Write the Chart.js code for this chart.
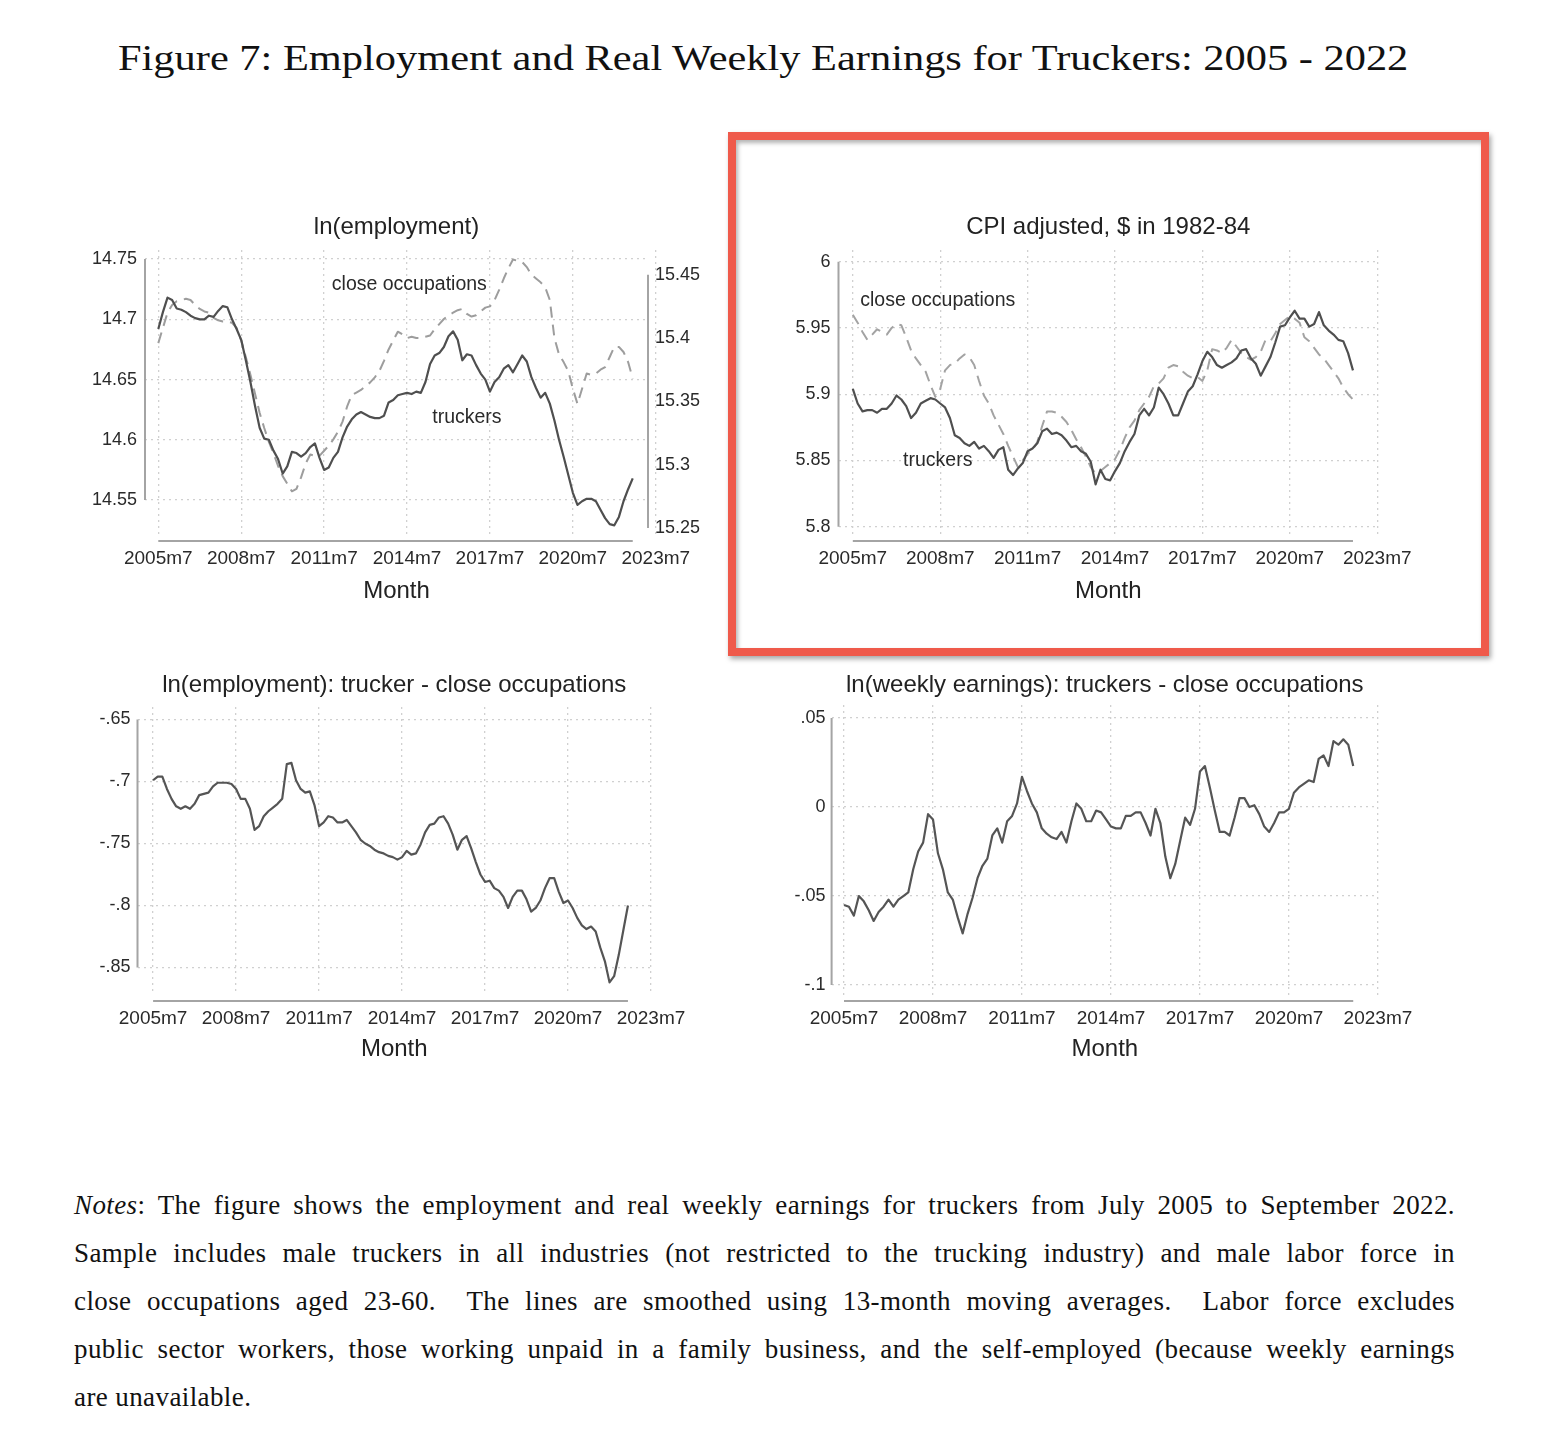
<!DOCTYPE html>
<html>
<head>
<meta charset="utf-8">
<title>Figure 7</title>
<script src="https://cdn.jsdelivr.net/npm/chart.js@4.4.1/dist/chart.umd.min.js"></script>
<style>
  html, body { margin: 0; padding: 0; background: #fff; }
  #page { position: relative; width: 1550px; height: 1432px; overflow: hidden; background: #fff; }
  #figTitle { position: absolute; left: 118px; top: 36px; font-family: 'Liberation Serif', serif; font-size: 36px; line-height: 44px; color: #111; white-space: nowrap; transform-origin: 0 0; }
  canvas { position: absolute; }
  #highlight { position: absolute; left: 728px; top: 132px; width: 761px; height: 524px; box-sizing: border-box; border: 8px solid #ef5a4b; box-shadow: 2px 3px 5px rgba(0,0,0,.35), inset 2px 3px 4px rgba(0,0,0,.3); }
  #notes { position: absolute; left: 74px; top: 1181px; width: 1381px; font-family: 'Liberation Serif', serif; font-size: 27px; letter-spacing: 0.4px; color: #111; }
  #notes div { height: 48px; line-height: 48px; text-align: justify; text-align-last: justify; }
  #notes div.last { text-align-last: left; }
</style>
</head>
<body>
<div id="page">
  <div id="figTitle">Figure 7: Employment and Real Weekly Earnings for Truckers: 2005 - 2022</div>
  <canvas id="c1" width="670" height="420" style="left:60px;top:200px"></canvas>
  <canvas id="c2" width="728" height="420" style="left:740px;top:200px"></canvas>
  <canvas id="c3" width="659" height="420" style="left:60px;top:660px"></canvas>
  <canvas id="c4" width="720" height="420" style="left:740px;top:660px"></canvas>
  <div id="highlight"></div>
  <div id="notes">
    <div><i>Notes</i>: The figure shows the employment and real weekly earnings for truckers from July 2005 to September 2022.</div>
    <div>Sample includes male truckers in all industries (not restricted to the trucking industry) and male labor force in</div>
    <div>close occupations aged 23-60.&nbsp; The lines are smoothed using 13-month moving averages.&nbsp; Labor force excludes</div>
    <div>public sector workers, those working unpaid in a family business, and the self-employed (because weekly earnings</div>
    <div class="last">are unavailable.</div>
  </div>
</div>
<script>
Chart.defaults.font.family = "'Liberation Sans', Arimo, Arial, sans-serif";
Chart.defaults.color = '#2a2a2a';

// x axis: months counted from 2005m7
const monthTicks = [0, 36, 72, 108, 144, 180, 216];
const monthLabels = ['2005m7', '2008m7', '2011m7', '2014m7', '2017m7', '2020m7', '2023m7'];

// every second month, 2005m7 .. 2022m9 (13-month moving averages)
const empTruckers = [
  14.692, 14.706, 14.718, 14.716, 14.709, 14.708, 14.706, 14.703, 14.701, 14.700,
  14.700, 14.703, 14.702, 14.707, 14.711, 14.710, 14.700, 14.692, 14.683, 14.666,
  14.648, 14.628, 14.610, 14.601, 14.600, 14.591, 14.584, 14.572, 14.578, 14.590,
  14.589, 14.586, 14.589, 14.594, 14.597, 14.585, 14.575, 14.577, 14.585, 14.590,
  14.602, 14.611, 14.617, 14.621, 14.623, 14.621, 14.619, 14.618, 14.618, 14.620,
  14.631, 14.633, 14.637, 14.638, 14.639, 14.638, 14.640, 14.639, 14.648, 14.663,
  14.670, 14.672, 14.677, 14.686, 14.690, 14.683, 14.666, 14.671, 14.670, 14.662,
  14.655, 14.650, 14.640, 14.648, 14.652, 14.659, 14.662, 14.656, 14.663, 14.670,
  14.665, 14.652, 14.643, 14.635, 14.639, 14.630, 14.616, 14.600, 14.586, 14.571,
  14.556, 14.546, 14.549, 14.551, 14.551, 14.549, 14.542, 14.535, 14.530, 14.529,
  14.536, 14.549, 14.559, 14.568
];
const empClose = [
  15.396, 15.408, 15.420, 15.426, 15.429, 15.430, 15.431, 15.430, 15.426, 15.423,
  15.421, 15.420, 15.416, 15.414, 15.413, 15.413, 15.412, 15.408, 15.398, 15.385,
  15.371, 15.356, 15.341, 15.329, 15.318, 15.309, 15.299, 15.291, 15.285, 15.279,
  15.281, 15.290, 15.301, 15.308, 15.307, 15.307, 15.311, 15.315, 15.320, 15.326,
  15.334, 15.346, 15.355, 15.357, 15.359, 15.362, 15.365, 15.369, 15.374, 15.382,
  15.391, 15.398, 15.405, 15.403, 15.400, 15.401, 15.400, 15.400, 15.401, 15.402,
  15.407, 15.411, 15.415, 15.418, 15.420, 15.422, 15.423, 15.419, 15.417, 15.418,
  15.421, 15.424, 15.425, 15.430, 15.438, 15.447, 15.455, 15.462, 15.461, 15.460,
  15.456, 15.450, 15.447, 15.444, 15.440, 15.430, 15.400, 15.387, 15.381, 15.374,
  15.360, 15.348, 15.360, 15.372, 15.371, 15.372, 15.375, 15.377, 15.385, 15.393,
  15.393, 15.389, 15.381, 15.368
];
const earnTruckers = [
  5.904, 5.893, 5.887, 5.888, 5.888, 5.886, 5.889, 5.889, 5.893, 5.899,
  5.896, 5.891, 5.882, 5.886, 5.893, 5.895, 5.897, 5.896, 5.893, 5.890,
  5.882, 5.869, 5.867, 5.863, 5.861, 5.864, 5.859, 5.861, 5.857, 5.852,
  5.858, 5.860, 5.843, 5.839, 5.844, 5.848, 5.857, 5.859, 5.863, 5.872,
  5.874, 5.870, 5.871, 5.869, 5.865, 5.860, 5.861, 5.857, 5.855, 5.849,
  5.832, 5.843, 5.836, 5.835, 5.842, 5.848, 5.857, 5.864, 5.870, 5.884,
  5.889, 5.884, 5.890, 5.905, 5.900, 5.893, 5.884, 5.884, 5.893, 5.902,
  5.906, 5.915, 5.925, 5.932, 5.928, 5.922, 5.920, 5.922, 5.924, 5.927,
  5.933, 5.934, 5.927, 5.923, 5.914, 5.921, 5.928, 5.939, 5.951, 5.952,
  5.958, 5.963, 5.957, 5.957, 5.951, 5.953, 5.962, 5.952, 5.948, 5.945,
  5.941, 5.940, 5.931, 5.918
];
const earnClose = [
  5.960, 5.954, 5.947, 5.941, 5.945, 5.949, 5.947, 5.945, 5.950, 5.953,
  5.952, 5.943, 5.933, 5.927, 5.922, 5.917, 5.907, 5.898, 5.904, 5.918,
  5.922, 5.923, 5.927, 5.930, 5.928, 5.922, 5.910, 5.899, 5.893, 5.884,
  5.877, 5.870, 5.861, 5.853, 5.845, 5.850, 5.855, 5.858, 5.864, 5.876,
  5.887, 5.887, 5.886, 5.883, 5.879, 5.873, 5.866, 5.860, 5.853, 5.845,
  5.840, 5.842, 5.845, 5.848, 5.851, 5.858, 5.867, 5.875, 5.880, 5.888,
  5.893, 5.898, 5.906, 5.908, 5.912, 5.920, 5.922, 5.921, 5.917, 5.914,
  5.912, 5.913, 5.910, 5.918, 5.934, 5.933, 5.931, 5.935, 5.941, 5.936,
  5.931, 5.928, 5.926, 5.928, 5.932, 5.941, 5.940, 5.946, 5.953, 5.956,
  5.959, 5.957, 5.954, 5.943, 5.940, 5.935, 5.930, 5.927, 5.922, 5.917,
  5.912, 5.905, 5.900, 5.896
];
const empGap = [
  -0.699, -0.696, -0.696, -0.706, -0.714, -0.720, -0.722, -0.720, -0.722, -0.718,
  -0.711, -0.710, -0.709, -0.704, -0.701, -0.701, -0.701, -0.702, -0.706, -0.714,
  -0.714, -0.722, -0.739, -0.736, -0.728, -0.724, -0.721, -0.718, -0.714, -0.686,
  -0.685, -0.699, -0.706, -0.709, -0.708, -0.719, -0.736, -0.733, -0.728, -0.729,
  -0.733, -0.733, -0.731, -0.736, -0.741, -0.747, -0.750, -0.752, -0.755, -0.757,
  -0.758, -0.760, -0.761, -0.763, -0.761, -0.756, -0.759, -0.758, -0.751, -0.741,
  -0.735, -0.734, -0.729, -0.728, -0.734, -0.743, -0.755, -0.747, -0.744, -0.754,
  -0.765, -0.775, -0.781, -0.780, -0.786, -0.788, -0.793, -0.802, -0.793, -0.788,
  -0.788, -0.795, -0.805, -0.802, -0.796, -0.786, -0.778, -0.778, -0.789, -0.798,
  -0.796, -0.802, -0.810, -0.816, -0.819, -0.817, -0.821, -0.834, -0.845, -0.862,
  -0.857, -0.840, -0.820, -0.800
];
const earnGap = [
  -0.055, -0.056, -0.061, -0.050, -0.053, -0.058, -0.064, -0.059, -0.056, -0.052,
  -0.056, -0.052, -0.050, -0.048, -0.035, -0.025, -0.020, -0.004, -0.007, -0.026,
  -0.035, -0.048, -0.052, -0.062, -0.071, -0.060, -0.051, -0.040, -0.033, -0.029,
  -0.016, -0.012, -0.020, -0.008, -0.005, 0.002, 0.017, 0.009, 0.002, -0.003,
  -0.012, -0.015, -0.017, -0.018, -0.014, -0.020, -0.008, 0.002, -0.001, -0.008,
  -0.008, -0.002, -0.003, -0.007, -0.011, -0.012, -0.012, -0.005, -0.005, -0.003,
  -0.003, -0.009, -0.016, -0.001, -0.009, -0.028, -0.040, -0.032, -0.019, -0.006,
  -0.010, -0.001, 0.020, 0.023, 0.011, -0.002, -0.014, -0.014, -0.016, -0.006,
  0.005, 0.005, 0.000, 0.001, -0.004, -0.011, -0.014, -0.009, -0.003, -0.003,
  -0.001, 0.008, 0.011, 0.013, 0.015, 0.014, 0.027, 0.029, 0.023, 0.037,
  0.035, 0.038, 0.035, 0.023
];
const months = empTruckers.map((v, i) => i * 2);

// y axis ticks
const empTicks = [14.55, 14.6, 14.65, 14.7, 14.75];
const empCloseTicks = [15.25, 15.3, 15.35, 15.4, 15.45];
const earnTicks = [5.8, 5.85, 5.9, 5.95, 6];
const empGapTicks = [-0.85, -0.8, -0.75, -0.7, -0.65];
const empGapTickLabels = ['-.85', '-.8', '-.75', '-.7', '-.65'];
const earnGapTicks = [-0.1, -0.05, 0, 0.05];
const earnGapTickLabels = ['-.1', '-.05', '0', '.05'];

// line names written inside the top panels (month, value on left axis)
const empLineNames = [
  {text: 'close occupations', month: 109, value: 14.729},
  {text: 'truckers', month: 134, value: 14.618}
];
const earnLineNames = [
  {text: 'close occupations', month: 35, value: 5.971},
  {text: 'truckers', month: 35, value: 5.8496}
];

function points(series) {
  return series.map((v, i) => ({x: months[i], y: v}));
}

// stata style axis lines: x line only under the data, y line only over the ticks
const axisLines = {
  id: 'axisLines',
  afterDraw(chart) {
    const {ctx, chartArea, scales} = chart;
    ctx.save();
    ctx.strokeStyle = '#a4a4a4';
    ctx.lineWidth = 2;
    ctx.beginPath();
    const yb = chartArea.bottom + 6;
    ctx.moveTo(scales.x.getPixelForValue(months[0]), yb);
    ctx.lineTo(scales.x.getPixelForValue(months[months.length - 1]), yb);
    Object.keys(scales).forEach(id => {
      if (id === 'x') return;
      const s = scales[id];
      const xe = s.position === 'left' ? chartArea.left : chartArea.right;
      const vals = s.ticks.map(t => t.value);
      ctx.moveTo(xe, s.getPixelForValue(Math.max(...vals)));
      ctx.lineTo(xe, s.getPixelForValue(Math.min(...vals)));
    });
    ctx.stroke();
    ctx.restore();
  }
};

const lineNames = {
  id: 'lineNames',
  afterDatasetsDraw(chart, args, opts) {
    if (!opts.items) return;
    const ctx = chart.ctx;
    ctx.save();
    ctx.font = "19.5px 'Liberation Sans', Arial, sans-serif";
    ctx.fillStyle = '#2a2a2a';
    ctx.textAlign = 'center';
    ctx.textBaseline = 'middle';
    opts.items.forEach(it => {
      ctx.fillText(it.text, chart.scales.x.getPixelForValue(it.month), chart.scales.y.getPixelForValue(it.value));
    });
    ctx.restore();
  }
};

const gridColor = '#d0d0d0';

function xAxis(min, max, titlePad) {
  return {
    type: 'linear', min: min, max: max,
    afterBuildTicks: s => { s.ticks = monthTicks.map(v => ({value: v})); },
    afterFit: s => { s.height = 85; },
    ticks: {autoSkip: false, maxRotation: 0, padding: 12, font: {size: 19},
      callback: v => monthLabels[monthTicks.indexOf(v)]},
    grid: {color: gridColor, lineWidth: 1.3, drawTicks: false},
    border: {display: false, dash: [2, 4]},
    title: {display: true, text: 'Month', color: '#222', font: {size: 24}, padding: {top: 0, bottom: titlePad}}
  };
}

function yAxis(pos, min, max, width, ticks, labels, showGrid, pad) {
  return {
    position: pos, min: min, max: max,
    afterBuildTicks: s => { s.ticks = ticks.map(v => ({value: v})); },
    afterFit: s => { s.width = width; },
    ticks: {padding: pad, font: {size: 18},
      callback: v => labels ? labels[ticks.indexOf(v)] : String(v)},
    grid: {display: showGrid, color: gridColor, lineWidth: 1.3, drawTicks: false},
    border: {display: false, dash: [2, 4]}
  };
}

function panelOptions(title, padTop, padBottom, rightPad, scales, names) {
  return {
    responsive: false,
    animation: false,
    events: [],
    layout: {padding: {left: 0, right: rightPad, top: 0, bottom: 0}},
    elements: {point: {radius: 0}, line: {tension: 0, borderJoinStyle: 'round'}},
    scales: scales,
    plugins: {
      legend: {display: false},
      tooltip: {enabled: false},
      title: {display: true, fullSize: false, text: title, color: '#222',
        font: {size: 24, weight: 'normal'}, padding: {top: padTop, bottom: padBottom}},
      lineNames: {items: names}
    }
  };
}

new Chart(document.getElementById('c1'), {
  type: 'line',
  data: {
    datasets: [
      {label: 'truckers', data: points(empTruckers), yAxisID: 'y', borderColor: '#4f4f4f', borderWidth: 2.2},
      {label: 'close occupations', data: points(empClose), yAxisID: 'y2', borderColor: '#9d9d9d', borderWidth: 2, borderDash: [11, 7]}
    ]
  },
  options: panelOptions('ln(employment)', 12.6, 8.6, 0, {
    x: xAxis(-5.775, 212.63, 14.6),
    y: yAxis('left', 14.52098, 14.75755, 85, empTicks, null, true, 8),
    y2: yAxis('right', 15.24451, 15.4695, 82, empCloseTicks, null, false, 7)
  }, empLineNames),
  plugins: [axisLines, lineNames]
});

new Chart(document.getElementById('c2'), {
  type: 'line',
  data: {
    datasets: [
      {label: 'truckers', data: points(earnTruckers), borderColor: '#4f4f4f', borderWidth: 2.2},
      {label: 'close occupations', data: points(earnClose), borderColor: '#a3a3a3', borderWidth: 2, borderDash: [11, 7]}
    ]
  },
  options: panelOptions('CPI adjusted, $ in 1982-84', 12.6, 8.6, 90, {
    x: xAxis(-5.89, 216.31, 14.6),
    y: yAxis('left', 5.79374, 6.00883, 98.5, earnTicks, null, true, 8)
  }, earnLineNames),
  plugins: [axisLines, lineNames]
});

new Chart(document.getElementById('c3'), {
  type: 'line',
  data: {
    datasets: [
      {label: 'truckers - close occupations', data: points(empGap), borderColor: '#555555', borderWidth: 2.2}
    ]
  },
  options: panelOptions('ln(employment): trucker - close occupations', 10.6, 7.6, 68, {
    x: xAxis(-6.77, 216.0, 16.6),
    y: yAxis('left', -0.87218, -0.63992, 77.5, empGapTicks, empGapTickLabels, true, 7)
  }, null),
  plugins: [axisLines, lineNames]
});

new Chart(document.getElementById('c4'), {
  type: 'line',
  data: {
    datasets: [
      {label: 'truckers - close occupations', data: points(earnGap), borderColor: '#555555', borderWidth: 2.2}
    ]
  },
  options: panelOptions('ln(weekly earnings): truckers - close occupations', 10.6, 5.6, 82, {
    x: xAxis(-5.02, 216.02, 16.6),
    y: yAxis('left', -0.1056, 0.0573, 91.6, earnGapTicks, earnGapTickLabels, true, 6)
  }, null),
  plugins: [axisLines, lineNames]
});

// stretch the serif caption to the width it has in the paper
const ft = document.getElementById('figTitle');
ft.style.transform = 'scaleX(' + (1290 / ft.offsetWidth) + ')';
</script>
</body>
</html>
